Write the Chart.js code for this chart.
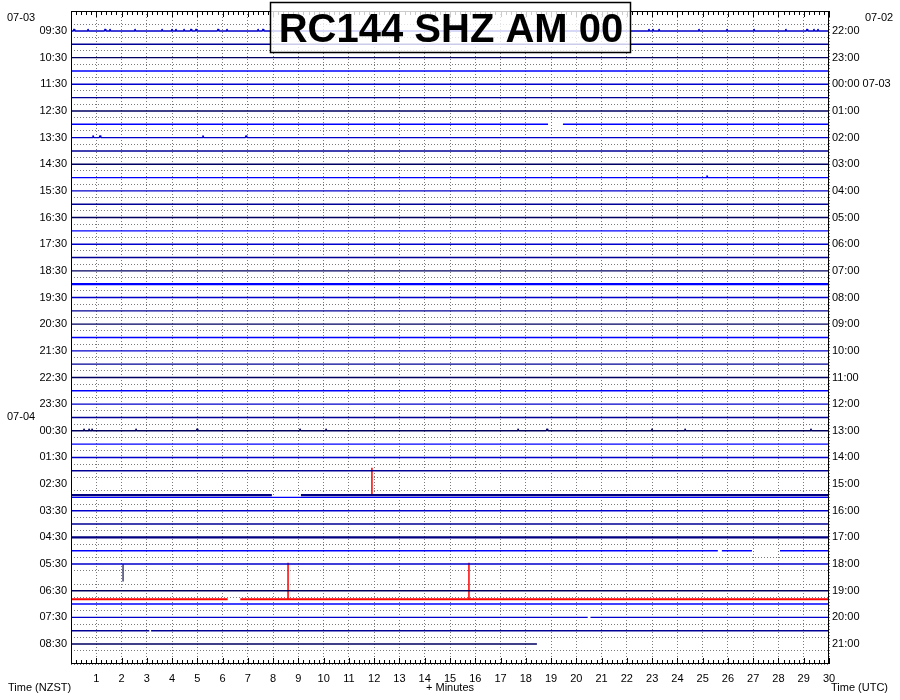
<!DOCTYPE html>
<html>
<head>
<meta charset="utf-8">
<script src="https://cdn.jsdelivr.net/npm/chart.js@4.4.1/dist/chart.umd.min.js"></script>
<style>
  html, body { margin: 0; padding: 0; background: #fff; }
</style>
</head>
<body>
<canvas id="drum" width="900" height="700"></canvas>
<script>
// helicorder: 49 half-hour slots of 30 minutes each, traces in slots 1..47
const stationTitle = 'RC144 SHZ AM 00';
const slotTotal = 49;
const firstSlot = 1, lastSlot = 47;
const minuteTicks = [0, 1, 2, 3, 4, 5, 6, 7, 8, 9, 10, 11, 12, 13, 14, 15, 16, 17, 18, 19, 20, 21, 22, 23, 24, 25, 26, 27, 28, 29, 30];

const leftTimes = ['09:30', '10:30', '11:30', '12:30', '13:30', '14:30', '15:30', '16:30', '17:30', '18:30', '19:30', '20:30',
                   '21:30', '22:30', '23:30', '00:30', '01:30', '02:30', '03:30', '04:30', '05:30', '06:30', '07:30', '08:30'];
const rightTimes = ['22:00', '23:00', '00:00 07-03', '01:00', '02:00', '03:00', '04:00', '05:00', '06:00', '07:00', '08:00', '09:00',
                    '10:00', '11:00', '12:00', '13:00', '14:00', '15:00', '16:00', '17:00', '18:00', '19:00', '20:00', '21:00'];
const leftDates = [[0.5, '07-03'], [30.5, '07-04']];
const rightDates = [[0.5, '07-02']];

// baseline shift of a trace, in slots (positive = lower)
const traceShift = { 35: 0.83, 42: 1.65 };
// missing data, [from, to] minutes
const traceGaps = {
  8: [[18.88, 19.47]],
  35: [[7.95, 9.1]],
  40: [[25.6, 25.76], [26.95, 28.06]],
  42: [[6.2, 6.7]],
  45: [[20.45, 20.56]],
  46: [[3.1, 3.17]]
};
const traceEnd = { 47: 18.44 };
const noisySlots = [20, 35, 39];
const redSlots = [42];

// small blips, minutes
const smallTicks = {
  1: [0.12, 0.67, 1.35, 1.54, 2.53, 3.60, 3.99, 4.15, 4.47, 4.75, 4.95, 5.82, 6.17, 7.40, 7.60,
      22.87, 23.03, 23.27, 24.85, 25.96, 27.03, 28.29, 29.13, 29.40, 29.56],
  9: [0.87, 1.15, 5.22, 6.93],
  12: [25.17],
  31: [0.51, 0.71, 0.83, 2.57, 4.99, 9.06, 10.09, 17.69, 18.84, 22.99, 24.3, 29.28]
};
// [slot, minute, amplitude in slots, colour]
const bigSpikes = [
  [35, 11.91, -2.05, '#ff0000'],
  [41, 2.06, 1.3, '#404070'],
  [42, 8.59, -2.75, '#ff0000'],
  [42, 15.75, -2.75, '#ff0000']
];

const palette = ['#0000ff', '#0000cc', '#000096', '#000060'];
const labelFont = { family: 'Liberation Sans, Arial, sans-serif', size: 11 };

function baseOf(slot) {
  return slot + 0.5 + (traceShift[slot] || 0);
}

function traceData(slot) {
  const base = baseOf(slot);
  const pts = [{ x: 0, y: base }];
  (smallTicks[slot] || []).forEach(t => {
    pts.push({ x: t - 0.03, y: base }, { x: t, y: base - 0.15 }, { x: t + 0.03, y: base });
  });
  (traceGaps[slot] || []).forEach(g => {
    pts.push({ x: g[0], y: base }, { x: (g[0] + g[1]) / 2, y: null }, { x: g[1], y: base });
  });
  pts.push({ x: traceEnd[slot] !== undefined ? traceEnd[slot] : 30, y: base });
  pts.sort((a, b) => a.x - b.x);
  return pts;
}

const datasets = [];
for (let s = firstSlot; s <= lastSlot; s++) {
  const red = redSlots.includes(s);
  const noisy = noisySlots.includes(s);
  datasets.push({
    data: traceData(s),
    borderColor: red ? '#ff0000' : (noisy && s % 4 === 3 ? '#000080' : palette[s % 4]),
    borderWidth: red ? 2 : (noisy ? 2.2 : 1.4),
    borderJoinStyle: 'bevel',
    pointRadius: 0,
    spanGaps: false,
    yAxisID: 'y'
  });
}
bigSpikes.forEach(sp => {
  const base = baseOf(sp[0]);
  datasets.push({
    data: [{ x: sp[1], y: base }, { x: sp[1], y: base + sp[2] }],
    borderColor: sp[3],
    borderWidth: 1.5,
    pointRadius: 0,
    yAxisID: 'y'
  });
});

const drumDecor = {
  id: 'drumDecor',
  afterDraw(chart) {
    const ctx = chart.ctx;
    const a = chart.chartArea;
    const xs = chart.scales.x;
    const ys = chart.scales.y;
    ctx.save();

    // frame
    ctx.strokeStyle = '#000';
    ctx.lineWidth = 1;
    ctx.strokeRect(Math.round(a.left) + 0.5, Math.round(a.top) + 0.5,
                   Math.round(a.right - a.left) - 1, Math.round(a.bottom - a.top) - 1);

    // inner ticks every 0.2 minute
    ctx.beginPath();
    for (let i = 0; i <= 150; i++) {
      const px = Math.round(xs.getPixelForValue(i / 5)) + 0.5;
      const len = i % 5 === 0 ? 6 : 4;
      ctx.moveTo(px, a.top);
      ctx.lineTo(px, a.top + len);
      ctx.moveTo(px, a.bottom);
      ctx.lineTo(px, a.bottom - len);
    }
    ctx.stroke();

    // side texts
    ctx.fillStyle = '#000';
    ctx.font = '11px ' + labelFont.family;
    ctx.textBaseline = 'middle';
    ctx.textAlign = 'left';
    leftDates.forEach(d => ctx.fillText(d[1], 7, ys.getPixelForValue(d[0])));
    rightDates.forEach(d => ctx.fillText(d[1], 865, ys.getPixelForValue(d[0])));
    ctx.fillText('Time (NZST)', 8, 688);
    ctx.fillText('Time (UTC)', 831, 688);
    ctx.textAlign = 'center';
    ctx.fillText('+ Minutes', (a.left + a.right) / 2, 688);

    // title box
    ctx.fillStyle = 'rgba(255,255,255,0.8)';
    ctx.fillRect(270, 2, 361, 51);
    ctx.strokeStyle = '#000';
    ctx.lineWidth = 1.5;
    ctx.strokeRect(270.5, 2.5, 360, 50);
    ctx.fillStyle = '#000';
    ctx.font = 'bold 40px Liberation Sans, Arial, sans-serif';
    ctx.textAlign = 'center';
    ctx.textBaseline = 'alphabetic';
    ctx.fillText(stationTitle, 451, 42);
    ctx.restore();
  }
};

new Chart(document.getElementById('drum').getContext('2d'), {
  type: 'line',
  data: { datasets: datasets },
  options: {
    responsive: false,
    devicePixelRatio: 1,
    animation: false,
    events: [],
    layout: { padding: { top: 11, left: 0, right: 0, bottom: 0 } },
    plugins: { legend: { display: false }, tooltip: { enabled: false } },
    scales: {
      x: {
        type: 'linear', min: 0, max: 30, position: 'bottom',
        afterBuildTicks: s => { s.ticks = minuteTicks.map(v => ({ value: v })); },
        afterFit: s => { s.height = 36; },
        ticks: {
          autoSkip: false, maxRotation: 0, padding: 8, color: '#000', font: labelFont,
          callback: v => (v === 0 ? '' : String(v))
        },
        grid: { color: '#7a7a7a', drawTicks: false },
        border: { display: false, dash: [1, 2] }
      },
      yGrid: {
        type: 'linear', min: 0, max: slotTotal, reverse: true, position: 'left',
        afterBuildTicks: s => {
          const t = [];
          for (let i = 0; i <= slotTotal; i++) t.push({ value: i });
          s.ticks = t;
        },
        afterFit: s => { s.width = 0; },
        ticks: { display: false },
        grid: { color: '#7a7a7a', drawTicks: false },
        border: { display: false, dash: [1, 2] }
      },
      y: {
        type: 'linear', min: 0, max: slotTotal, reverse: true, position: 'left',
        afterBuildTicks: s => { s.ticks = leftTimes.map((_, i) => ({ value: 1.5 + 2 * i })); },
        afterFit: s => { s.width = 71; },
        ticks: { padding: 4, color: '#000', font: labelFont, callback: (v, i) => leftTimes[i] },
        grid: { display: false, drawTicks: false },
        border: { display: false }
      },
      y2: {
        type: 'linear', min: 0, max: slotTotal, reverse: true, position: 'right',
        afterBuildTicks: s => { s.ticks = rightTimes.map((_, i) => ({ value: 1.5 + 2 * i })); },
        afterFit: s => { s.width = 71; },
        ticks: { padding: 3, color: '#000', font: labelFont, callback: (v, i) => rightTimes[i] },
        grid: { display: false, drawTicks: false },
        border: { display: false }
      }
    }
  },
  plugins: [drumDecor]
});
</script>
</body>
</html>
